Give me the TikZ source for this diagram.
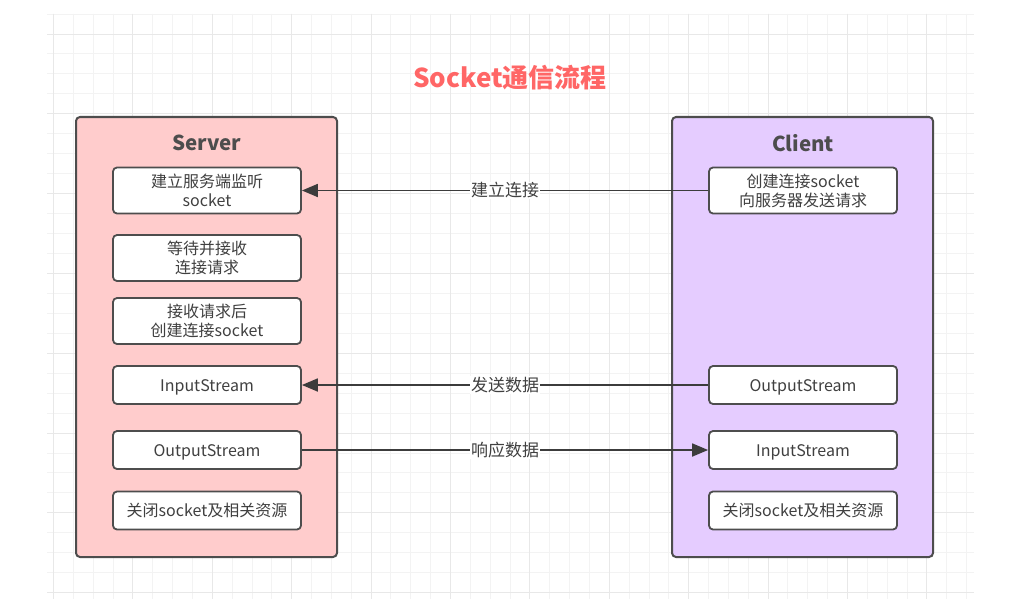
\documentclass[tikz,border=0pt]{standalone}
\usepackage{fontspec}
\setmainfont{Noto Sans CJK SC}
\usetikzlibrary{arrows.meta}
\definecolor{srvfill}{HTML}{FFCCCC}
\definecolor{clifill}{HTML}{E5CCFF}
\definecolor{strokegray}{HTML}{4D4D4D}
\definecolor{linegray}{HTML}{3C3C3C}
\definecolor{textgray}{HTML}{404040}
\definecolor{titlered}{HTML}{FF6666}
\definecolor{gridminor}{HTML}{F3F3F3}
\definecolor{gridmajor}{HTML}{E8E8E8}
\begin{document}
\begin{tikzpicture}[x=1pt,y=-1pt,
  panel/.style={draw=strokegray, line width=2pt, rounded corners=4pt,
    minimum width=261pt, minimum height=440pt, inner sep=0pt},
  item/.style={draw=strokegray, fill=white, line width=1.8pt, rounded corners=4pt,
    minimum width=188pt, inner sep=0pt, align=center, text=textgray,
    font=\fontsize{16}{19}\selectfont},
  tall/.style={item, minimum height=46pt},
  short/.style={item, minimum height=38pt, text height=14pt, text depth=2pt},
  head/.style={font=\bfseries\fontsize{20.5}{24}\selectfont, text=strokegray},
  link/.style={draw=linegray, line width=1.8pt, -{Triangle[length=16pt,width=13pt]}},
  lbl/.style={fill=white, inner sep=1pt, text=textgray, font=\fontsize{17}{20}\selectfont}]
\useasboundingbox (0,0) rectangle (1024,599);
\fill[white] (0,0) rectangle (1024,599);
% grid
\foreach \i in {0,...,46} {
  \pgfmathsetmacro{\gx}{53.4+\i*19.85}
  \draw[gridminor, line width=0.8pt] (\gx,14) -- (\gx,599);
}
\foreach \i in {0,...,29} {
  \pgfmathsetmacro{\gy}{14+\i*19.95}
  \draw[gridminor, line width=0.8pt] (47,\gy) -- (974,\gy);
}
\foreach \i in {-1,...,10} {
  \pgfmathsetmacro{\gx}{132.8+\i*79.4}
  \draw[gridmajor, line width=0.8pt] (\gx,14) -- (\gx,599);
}
\foreach \i in {0,...,7} {
  \pgfmathsetmacro{\gy}{34+\i*79.8}
  \draw[gridmajor, line width=0.8pt] (47,\gy) -- (974,\gy);
}
% title
\node[font=\bfseries\fontsize{26}{30}\selectfont, text=titlered] (title) at (510,78) {Socket通信流程};
% panels
\node[panel, fill=srvfill] (server) at (206.5,337) {};
\node[panel, fill=clifill] (client) at (802.5,337) {};
\node[head] (shead) at (207,143) {Server};
\node[head] (chead) at (803,143) {Client};
% server items
\node[tall] (s1) at (207,190.5) {建立服务端监听\\socket};
\node[tall] (s2) at (207,258) {等待并接收\\连接请求};
\node[tall] (s3) at (207,321) {接收请求后\\创建连接socket};
\node[short] (s4) at (207,385) {InputStream};
\node[short] (s5) at (207,450) {OutputStream};
\node[short] (s6) at (207,510.5) {关闭socket及相关资源};
% client items
\node[tall] (c1) at (803,190.5) {创建连接socket\\向服务器发送请求};
\node[short] (c2) at (803,385) {OutputStream};
\node[short] (c3) at (803,450) {InputStream};
\node[short] (c4) at (803,510.5) {关闭socket及相关资源};
% links
\draw[link] (c1.west) -- node[lbl] (l1) {建立连接} (s1.east);
\draw[link] (c2.west) -- node[lbl] (l2) {发送数据} (s4.east);
\draw[link] (s5.east) -- node[lbl] (l3) {响应数据} (c3.west);
\end{tikzpicture}
\end{document}
